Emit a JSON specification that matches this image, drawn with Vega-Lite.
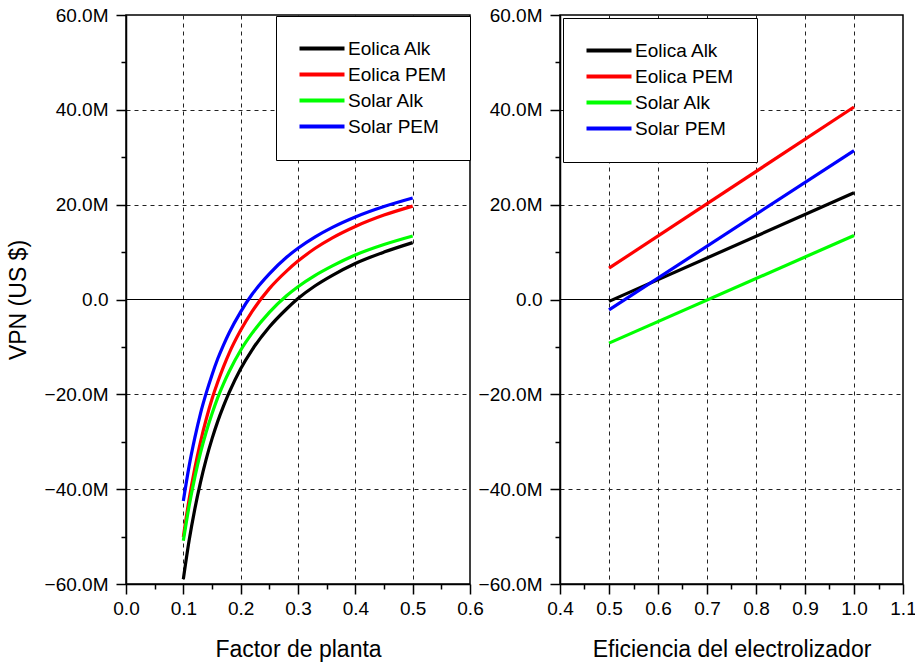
{
  "$schema": "https://vega.github.io/schema/vega-lite/v6.json",
  "padding": {"left": 6, "top": 5, "right": 5, "bottom": 5},
  "background": "white",
  "config": {
    "font": "Liberation Sans",
    "view": {"stroke": "black", "strokeWidth": 1.5},
    "axis": {
      "domainColor": "black", "domainWidth": 1.5,
      "tickColor": "black", "tickWidth": 1.5,
      "labelColor": "black", "labelFontSize": 19, "labelFont": "Liberation Sans",
      "titleColor": "black", "titleFontSize": 23, "titleFontWeight": "normal", "titleFont": "Liberation Sans",
      "grid": true, "gridColor": "#222222", "gridDash": [4, 4], "gridWidth": 1,
      "labelOverlap": false, "labelFlush": false
    },
    "legend": {
      "labelFont": "Liberation Sans", "labelFontSize": 19, "labelColor": "black"
    }
  },
  "datasets": {
    "factor": [
      {"fp": 0.10, "serie": "Eolica Alk", "vpn": -59.0},
      {"fp": 0.11, "serie": "Eolica Alk", "vpn": -50.9},
      {"fp": 0.12, "serie": "Eolica Alk", "vpn": -44.2},
      {"fp": 0.13, "serie": "Eolica Alk", "vpn": -38.5},
      {"fp": 0.14, "serie": "Eolica Alk", "vpn": -33.6},
      {"fp": 0.15, "serie": "Eolica Alk", "vpn": -29.4},
      {"fp": 0.16, "serie": "Eolica Alk", "vpn": -25.7},
      {"fp": 0.17, "serie": "Eolica Alk", "vpn": -22.5},
      {"fp": 0.18, "serie": "Eolica Alk", "vpn": -19.6},
      {"fp": 0.20, "serie": "Eolica Alk", "vpn": -14.6},
      {"fp": 0.22, "serie": "Eolica Alk", "vpn": -10.6},
      {"fp": 0.25, "serie": "Eolica Alk", "vpn": -5.8},
      {"fp": 0.28, "serie": "Eolica Alk", "vpn": -2.0},
      {"fp": 0.30, "serie": "Eolica Alk", "vpn": 0.2},
      {"fp": 0.33, "serie": "Eolica Alk", "vpn": 2.9},
      {"fp": 0.36, "serie": "Eolica Alk", "vpn": 5.1},
      {"fp": 0.40, "serie": "Eolica Alk", "vpn": 7.6},
      {"fp": 0.45, "serie": "Eolica Alk", "vpn": 10.0},
      {"fp": 0.50, "serie": "Eolica Alk", "vpn": 12.0},
      {"fp": 0.10, "serie": "Eolica PEM", "vpn": -50.1},
      {"fp": 0.11, "serie": "Eolica PEM", "vpn": -42.2},
      {"fp": 0.12, "serie": "Eolica PEM", "vpn": -35.6},
      {"fp": 0.13, "serie": "Eolica PEM", "vpn": -30.0},
      {"fp": 0.14, "serie": "Eolica PEM", "vpn": -25.2},
      {"fp": 0.15, "serie": "Eolica PEM", "vpn": -21.0},
      {"fp": 0.16, "serie": "Eolica PEM", "vpn": -17.4},
      {"fp": 0.17, "serie": "Eolica PEM", "vpn": -14.2},
      {"fp": 0.18, "serie": "Eolica PEM", "vpn": -11.3},
      {"fp": 0.20, "serie": "Eolica PEM", "vpn": -6.5},
      {"fp": 0.22, "serie": "Eolica PEM", "vpn": -2.5},
      {"fp": 0.25, "serie": "Eolica PEM", "vpn": 2.3},
      {"fp": 0.28, "serie": "Eolica PEM", "vpn": 6.0},
      {"fp": 0.30, "serie": "Eolica PEM", "vpn": 8.1},
      {"fp": 0.33, "serie": "Eolica PEM", "vpn": 10.8},
      {"fp": 0.36, "serie": "Eolica PEM", "vpn": 13.0},
      {"fp": 0.40, "serie": "Eolica PEM", "vpn": 15.4},
      {"fp": 0.45, "serie": "Eolica PEM", "vpn": 17.8},
      {"fp": 0.50, "serie": "Eolica PEM", "vpn": 19.7},
      {"fp": 0.10, "serie": "Solar Alk", "vpn": -50.9},
      {"fp": 0.11, "serie": "Solar Alk", "vpn": -43.6},
      {"fp": 0.12, "serie": "Solar Alk", "vpn": -37.5},
      {"fp": 0.13, "serie": "Solar Alk", "vpn": -32.3},
      {"fp": 0.14, "serie": "Solar Alk", "vpn": -27.9},
      {"fp": 0.15, "serie": "Solar Alk", "vpn": -24.1},
      {"fp": 0.16, "serie": "Solar Alk", "vpn": -20.7},
      {"fp": 0.17, "serie": "Solar Alk", "vpn": -17.8},
      {"fp": 0.18, "serie": "Solar Alk", "vpn": -15.2},
      {"fp": 0.20, "serie": "Solar Alk", "vpn": -10.7},
      {"fp": 0.22, "serie": "Solar Alk", "vpn": -7.1},
      {"fp": 0.25, "serie": "Solar Alk", "vpn": -2.7},
      {"fp": 0.28, "serie": "Solar Alk", "vpn": 0.8},
      {"fp": 0.30, "serie": "Solar Alk", "vpn": 2.7},
      {"fp": 0.33, "serie": "Solar Alk", "vpn": 5.1},
      {"fp": 0.36, "serie": "Solar Alk", "vpn": 7.1},
      {"fp": 0.40, "serie": "Solar Alk", "vpn": 9.4},
      {"fp": 0.45, "serie": "Solar Alk", "vpn": 11.6},
      {"fp": 0.50, "serie": "Solar Alk", "vpn": 13.4},
      {"fp": 0.10, "serie": "Solar PEM", "vpn": -42.5},
      {"fp": 0.11, "serie": "Solar PEM", "vpn": -35.2},
      {"fp": 0.12, "serie": "Solar PEM", "vpn": -29.2},
      {"fp": 0.13, "serie": "Solar PEM", "vpn": -24.0},
      {"fp": 0.14, "serie": "Solar PEM", "vpn": -19.7},
      {"fp": 0.15, "serie": "Solar PEM", "vpn": -15.9},
      {"fp": 0.16, "serie": "Solar PEM", "vpn": -12.5},
      {"fp": 0.17, "serie": "Solar PEM", "vpn": -9.6},
      {"fp": 0.18, "serie": "Solar PEM", "vpn": -7.0},
      {"fp": 0.20, "serie": "Solar PEM", "vpn": -2.6},
      {"fp": 0.22, "serie": "Solar PEM", "vpn": 1.1},
      {"fp": 0.25, "serie": "Solar PEM", "vpn": 5.4},
      {"fp": 0.28, "serie": "Solar PEM", "vpn": 8.9},
      {"fp": 0.30, "serie": "Solar PEM", "vpn": 10.8},
      {"fp": 0.33, "serie": "Solar PEM", "vpn": 13.2},
      {"fp": 0.36, "serie": "Solar PEM", "vpn": 15.2},
      {"fp": 0.40, "serie": "Solar PEM", "vpn": 17.4},
      {"fp": 0.45, "serie": "Solar PEM", "vpn": 19.6},
      {"fp": 0.50, "serie": "Solar PEM", "vpn": 21.4}
    ],
    "eficiencia": [
      {"ef": 0.5, "serie": "Eolica Alk", "vpn": -0.4},
      {"ef": 1.0, "serie": "Eolica Alk", "vpn": 22.5},
      {"ef": 0.5, "serie": "Eolica PEM", "vpn": 6.6},
      {"ef": 1.0, "serie": "Eolica PEM", "vpn": 40.6},
      {"ef": 0.5, "serie": "Solar Alk", "vpn": -9.2},
      {"ef": 1.0, "serie": "Solar Alk", "vpn": 13.5},
      {"ef": 0.5, "serie": "Solar PEM", "vpn": -2.2},
      {"ef": 1.0, "serie": "Solar PEM", "vpn": 31.4}
    ]
  },
  "bounds": "flush",
  "spacing": 90,
  "resolve": {"legend": {"color": "independent"}, "scale": {"color": "independent"}},
  "hconcat": [
    {
      "width": 344,
      "height": 569,
      "layer": [
        {
          "data": {"values": [{}]},
          "mark": {"type": "rule", "color": "black", "strokeWidth": 1},
          "encoding": {"y": {"datum": 0, "type": "quantitative"}}
        },
        {
          "data": {"name": "factor"},
          "mark": {"type": "line", "strokeWidth": 3.2, "interpolate": "monotone"},
          "encoding": {
            "x": {
              "field": "fp", "type": "quantitative",
              "scale": {"domain": [0, 0.6], "nice": false, "zero": false},
              "axis": {
                "title": "Factor de planta",
                "titlePadding": 20,
                "values": [0, 0.05, 0.1, 0.15, 0.2, 0.25, 0.3, 0.35, 0.4, 0.45, 0.5, 0.55, 0.6],
                "labelPadding": 5,
                "labelExpr": "round(datum.value*100)%10===0 ? format(datum.value,'.1f') : ''",
                "tickSize": {"condition": {"test": "round(datum.value*100)%10===0", "value": 10}, "value": 5},
                "gridOpacity": {"condition": {"test": "round(datum.value*100)%10===0 && datum.value>0.01 && datum.value<0.59", "value": 1}, "value": 0}
              }
            },
            "y": {
              "field": "vpn", "type": "quantitative",
              "scale": {"domain": [-60, 60], "nice": false},
              "axis": {
                "title": "VPN (US $)",
                "titlePadding": 14,
                "values": [-60, -50, -40, -30, -20, -10, 0, 10, 20, 30, 40, 50, 60],
                "labelPadding": 8,
                "labelExpr": "datum.value%20!==0 ? '' : (datum.value===0 ? '0.0' : format(datum.value,'.1f')+'M')",
                "tickSize": {"condition": {"test": "datum.value%20===0", "value": 10}, "value": 5},
                "gridOpacity": {"condition": {"test": "datum.value%20===0 && abs(datum.value)<59 && datum.value!==0", "value": 1}, "value": 0}
              }
            },
            "color": {
              "field": "serie", "type": "nominal",
              "scale": {"domain": ["Eolica Alk", "Eolica PEM", "Solar Alk", "Solar PEM"], "range": ["#000000", "#ff0000", "#00ff00", "#0000ff"]},
              "legend": {
                "orient": "none", "legendX": 150, "legendY": 1, "title": null,
                "symbolType": "M-2,0H8", "symbolSize": 81, "symbolStrokeWidth": 4,
                "labelOffset": 30, "rowPadding": 6, "padding": 23,
                "strokeColor": "black", "fillColor": "white"
              }
            }
          }
        }
      ]
    },
    {
      "width": 343,
      "height": 569,
      "layer": [
        {
          "data": {"values": [{}]},
          "mark": {"type": "rule", "color": "black", "strokeWidth": 1},
          "encoding": {"y": {"datum": 0, "type": "quantitative"}}
        },
        {
          "data": {"name": "eficiencia"},
          "mark": {"type": "line", "strokeWidth": 3.2},
          "encoding": {
            "x": {
              "field": "ef", "type": "quantitative",
              "scale": {"domain": [0.4, 1.1], "nice": false, "zero": false},
              "axis": {
                "title": "Eficiencia del electrolizador",
                "titlePadding": 20,
                "values": [0.4, 0.45, 0.5, 0.55, 0.6, 0.65, 0.7, 0.75, 0.8, 0.85, 0.9, 0.95, 1.0, 1.05, 1.1],
                "labelPadding": 5,
                "labelExpr": "round(datum.value*100)%10===0 ? format(datum.value,'.1f') : ''",
                "tickSize": {"condition": {"test": "round(datum.value*100)%10===0", "value": 10}, "value": 5},
                "gridOpacity": {"condition": {"test": "round(datum.value*100)%10===0 && datum.value>0.41 && datum.value<1.09", "value": 1}, "value": 0}
              }
            },
            "y": {
              "field": "vpn", "type": "quantitative",
              "scale": {"domain": [-60, 60], "nice": false},
              "axis": {
                "title": null,
                "values": [-60, -50, -40, -30, -20, -10, 0, 10, 20, 30, 40, 50, 60],
                "labelPadding": 8,
                "labelExpr": "datum.value%20!==0 ? '' : (datum.value===0 ? '0.0' : format(datum.value,'.1f')+'M')",
                "tickSize": {"condition": {"test": "datum.value%20===0", "value": 10}, "value": 5},
                "gridOpacity": {"condition": {"test": "datum.value%20===0 && abs(datum.value)<59 && datum.value!==0", "value": 1}, "value": 0}
              }
            },
            "color": {
              "field": "serie", "type": "nominal",
              "scale": {"domain": ["Eolica Alk", "Eolica PEM", "Solar Alk", "Solar PEM"], "range": ["#000000", "#ff0000", "#00ff00", "#0000ff"]},
              "legend": {
                "orient": "none", "legendX": 3, "legendY": 3, "title": null,
                "symbolType": "M-2,0H8", "symbolSize": 81, "symbolStrokeWidth": 4,
                "labelOffset": 30, "rowPadding": 6, "padding": 23,
                "strokeColor": "black", "fillColor": "white"
              }
            }
          }
        }
      ]
    }
  ]
}
